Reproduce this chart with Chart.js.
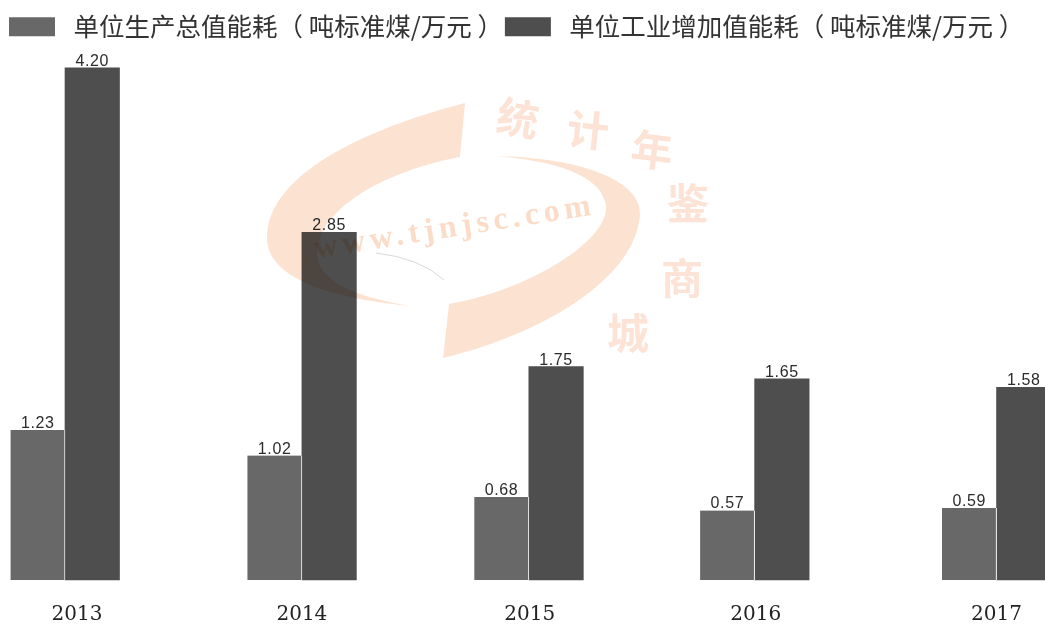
<!DOCTYPE html>
<html lang="zh">
<head>
<meta charset="utf-8">
<script src="https://cdn.jsdelivr.net/npm/chart.js@4/dist/chart.umd.js"></script>
<style>
html,body{margin:0;padding:0;background:#fff;}
#wrap{position:relative;width:1045px;height:624px;overflow:hidden;}
canvas{display:block;}
</style>
</head>
<body>
<div id="wrap"><canvas id="c" width="1045" height="624"></canvas></div>
<script>
const years = ['2013','2014','2015','2016','2017'];
const gdpEnergy = [1.23,1.02,0.68,0.57,0.59];
const industryEnergy = [4.20,2.85,1.75,1.65,1.58];
const seriesNames = ['单位生产总值能耗（ 吨标准煤/万元 ）','单位工业增加值能耗（ 吨标准煤/万元 ）'];
const stampChars = ['统','计','年','鉴','商','城'];
const stampUrl = 'www.tjnjsc.com';

// The source spaces its year groups unevenly, so the category axis takes the slot fractions from here.
const slotFractions = [0, 0.2543, 0.4979, 0.7403, 1];
const tickFractions = [0.0129, 0.2543, 0.4989, 0.7414, 1];
class SpacedCategoryScale extends Chart.CategoryScale {
  static id = 'spacedCategory';
  static defaults = {};
  getPixelForValue(value){
    const v = typeof value === 'number' ? value : this.parse(value);
    return this.getPixelForDecimal(slotFractions[v]);
  }
  getPixelForTick(index){
    return this.getPixelForDecimal(tickFractions[index]);
  }
}
Chart.register(SpacedCategoryScale);

const valueLabels = {
  id:'valueLabels',
  afterDatasetsDraw(chart){
    const ctx = chart.ctx;
    ctx.save();
    ctx.font = '16px "Liberation Sans"';
    ctx.letterSpacing = '0.6px';
    ctx.fillStyle = '#2b2b2b';
    ctx.textAlign = 'center';
    ctx.textBaseline = 'alphabetic';
    chart.data.datasets.forEach((ds,i)=>{
      chart.getDatasetMeta(i).data.forEach((bar,j)=>{
        ctx.fillText(ds.data[j].toFixed(2), bar.x, bar.y-2);
      });
    });
    ctx.restore();
  }
};

const watermark = {
  id:'watermark',
  afterDraw(chart){
    const ctx = chart.ctx;
    ctx.save();
    ctx.globalCompositeOperation = 'multiply';
    ctx.fillStyle = '#fce2d1';
    ctx.beginPath();
    ctx.moveTo(465,103);
    ctx.bezierCurveTo(380,125,265,170,267,240);
    ctx.bezierCurveTo(270,285,350,300,410,306);
    ctx.bezierCurveTo(365,298,315,285,317,250);
    ctx.bezierCurveTo(322,205,390,170,460,157);
    ctx.closePath();
    ctx.fill();
    ctx.beginPath();
    ctx.moveTo(443,358);
    ctx.lineTo(449,304);
    ctx.bezierCurveTo(530,290,610,240,606,205);
    ctx.bezierCurveTo(600,170,540,160,497,156);
    ctx.bezierCurveTo(580,158,642,180,640,215);
    ctx.bezierCurveTo(635,280,540,335,443,358);
    ctx.closePath();
    ctx.fill();
    ctx.fillStyle = '#fce3d5';
    ctx.font = 'bold 42px "Noto Sans CJK SC"';
    ctx.textAlign = 'center';
    ctx.textBaseline = 'middle';
    const spots = [[518,118,0.17],[588,130,0.1],[652,150,0.12],[688,203,0],[682,278,0],[628,333,0]];
    stampChars.forEach((ch,i)=>{
      ctx.save();
      ctx.translate(spots[i][0],spots[i][1]);
      ctx.rotate(spots[i][2]);
      ctx.fillText(ch,0,0);
      ctx.restore();
    });
    ctx.fillStyle = '#fbdcc8';
    ctx.save();
    ctx.translate(316,258);
    ctx.rotate(-0.155);
    ctx.font = 'bold 32px "Liberation Serif"';
    ctx.letterSpacing = '4.8px';
    ctx.textAlign = 'left';
    ctx.textBaseline = 'alphabetic';
    ctx.fillText(stampUrl,0,0);
    ctx.restore();
    ctx.restore();
    ctx.save();
    ctx.strokeStyle = 'rgba(180,180,180,0.5)';
    ctx.lineWidth = 1;
    ctx.beginPath();
    ctx.moveTo(376,253);
    ctx.quadraticCurveTo(420,258,444,280);
    ctx.stroke();
    ctx.restore();
  }
};

new Chart(document.getElementById('c'),{
  type:'bar',
  data:{
    labels:years,
    datasets:[
      {label:seriesNames[0],data:gdpEnergy,backgroundColor:'#686868',borderColor:'#f4f4f4',
       borderWidth:{top:0,left:0,bottom:0,right:1},borderSkipped:false,clip:false},
      {label:seriesNames[1],data:industryEnergy,backgroundColor:'#4e4e4e',borderWidth:0,clip:false}
    ]
  },
  plugins:[valueLabels,watermark],
  options:{
    responsive:false,
    animation:false,
    devicePixelRatio:1,
    layout:{padding:{left:7,right:0,top:12,bottom:0}},
    datasets:{bar:{barThickness:54.5}},
    plugins:{
      tooltip:{enabled:false},
      legend:{
        display:true,
        position:'top',
        align:'start',
        labels:{
          boxWidth:46,
          boxHeight:19,
          padding:2,
          color:'#333',
          font:{family:'"Noto Sans CJK SC"',size:25.5},
          generateLabels(chart){
            return Chart.defaults.plugins.legend.labels.generateLabels(chart).map(l=>{
              l.text = ' '+l.text; l.lineWidth=0; return l;
            });
          }
        }
      }
    },
    scales:{
      x:{
        type:'spacedCategory',
        offset:false,
        grid:{display:false,offset:false,drawTicks:false},
        border:{display:false},
        afterFit(s){s.height=44;},
        ticks:{color:'#222',font:{family:'"DejaVu Serif"',size:20},padding:23,maxRotation:0,autoSkip:false}
      },
      y:{
        display:true,
        position:'left',
        min:0,
        max:4.35,
        grid:{display:false},
        border:{display:false},
        ticks:{display:false},
        afterFit(s){s.width=58;}
      },
      yEdge:{
        display:true,
        position:'right',
        grid:{display:false},
        border:{display:false},
        ticks:{display:false},
        afterFit(s){s.width=48;}
      }
    }
  }
});
</script>
</body>
</html>
